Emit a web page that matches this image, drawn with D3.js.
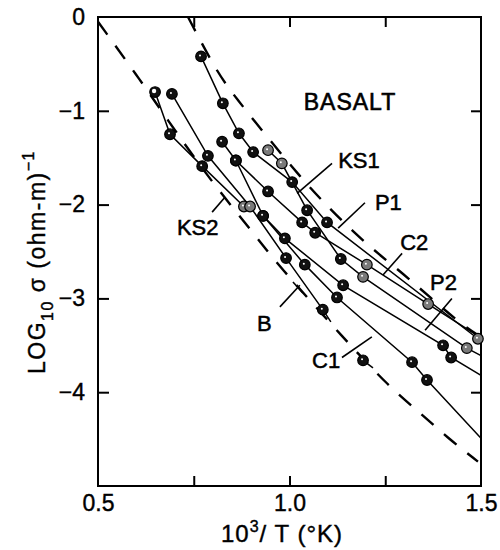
<!DOCTYPE html>
<html>
<head>
<meta charset="utf-8">
<script src="https://cdn.jsdelivr.net/npm/d3@7"></script>
<style>
  body { margin: 0; background: #fff; }
  text { font-family: "Liberation Sans", Arial, sans-serif; fill: #000; }
</style>
</head>
<body>
<div id="chart"></div>
<script>
// tick values / labels
const xTicks = [0.5, 0.75, 1.0, 1.25, 1.5];
const xTickLabels = ['0.5', '', '1.0', '', '1.5'];
const yTicks = [0, -1, -2, -3, -4];
const yTickLabels = ['0', '\u22121', '\u22122', '\u22123', '\u22124'];

// measured curves, [10^3/T, log10 sigma]
const ks2 = [[0.649, -0.80], [0.688, -1.25], [0.772, -1.59], [0.881, -2.02]];
const ks2Marks = ['open', 'fill', 'fill', 'hatch'];
const runA = [[0.693, -0.82], [0.787, -1.48], [0.897, -2.02], [0.991, -2.57], [1.087, -3.12], [1.108, -3.25]];
const runAMarks = ['fill', 'fill', 'hatch', 'fill', 'fill', 'none'];
const p1 = [[0.769, -0.42], [0.826, -0.92], [0.868, -1.24], [0.905, -1.44], [1.007, -1.76], [1.098, -2.19], [1.492, -3.43]];
const p1Marks = ['fill', 'fill', 'fill', 'fill', 'fill', 'fill', 'hatch'];
const ks1 = [[0.944, -1.42], [0.980, -1.56], [1.046, -2.06], [1.134, -2.58], [1.192, -2.77], [1.463, -3.53], [1.5, -3.61]];
const ks1Marks = ['hatch', 'hatch', 'fill', 'fill', 'hatch', 'hatch', 'none'];
const c2 = [[0.824, -1.33], [0.860, -1.53], [0.944, -1.86], [1.033, -2.19], [1.067, -2.30], [1.202, -2.64], [1.362, -3.06], [1.5, -3.42]];
const c2Marks = ['fill', 'fill', 'fill', 'fill', 'fill', 'hatch', 'hatch', 'none'];
const p2 = [[0.860, -1.53], [0.931, -2.12], [0.988, -2.36], [1.140, -2.86], [1.401, -3.50], [1.422, -3.63], [1.5, -3.82]];
const p2Marks = ['fill', 'fill', 'fill', 'fill', 'fill', 'fill', 'none'];
const c1 = [[0.931, -2.12], [1.040, -2.64], [1.124, -2.99], [1.320, -3.68], [1.359, -3.87], [1.5, -4.49]];
const c1Marks = ['fill', 'fill', 'fill', 'fill', 'fill', 'none'];
const runB = [[1.192, -3.66], [1.218, -3.74]];
const runBMarks = ['fill', 'none'];

// dashed reference curves
const upperDash = [[0.735, 0], [0.813, -0.61], [0.866, -0.89], [0.920, -1.17], [1.035, -1.74], [1.095, -2.00],
  [1.166, -2.29], [1.236, -2.54], [1.307, -2.77], [1.445, -3.27], [1.5, -3.41]];
const lowerDash = [[0.5, -0.05], [0.610, -0.67], [0.704, -1.23], [0.805, -1.80], [0.913, -2.34], [0.965, -2.62],
  [1.145, -3.44], [1.262, -3.95], [1.341, -4.22], [1.411, -4.48], [1.492, -4.74]];

const series = [
  { pts: ks2, marks: ks2Marks },
  { pts: runA, marks: runAMarks },
  { pts: p1, marks: p1Marks },
  { pts: ks1, marks: ks1Marks },
  { pts: c2, marks: c2Marks },
  { pts: p2, marks: p2Marks },
  { pts: c1, marks: c1Marks },
  { pts: runB, marks: runBMarks }
];

// curve labels: text, label anchor, leader from -> to
const labels = [
  { text: 'KS2', at: [0.706, -2.32], from: [0.798, -2.08], to: [0.832, -1.92] },
  { text: 'KS1', at: [1.127, -1.61], from: [1.020, -1.88], to: [1.111, -1.56] },
  { text: 'P1', at: [1.223, -2.06], from: [1.127, -2.25], to: [1.197, -1.98] },
  { text: 'C2', at: [1.289, -2.48], from: [1.244, -2.75], to: [1.294, -2.52] },
  { text: 'P2', at: [1.367, -2.91], from: [1.354, -3.34], to: [1.424, -3.00] },
  { text: 'B', at: [0.915, -3.35], from: [0.975, -3.09], to: [1.027, -2.86] },
  { text: 'C1', at: [1.059, -3.74], from: [1.137, -3.63], to: [1.215, -3.41] }
];

const W = 500, H = 550;
const x = d3.scaleLinear().domain([0.5, 1.5]).range([98, 481]);
const y = d3.scaleLinear().domain([0, -5]).range([17, 486]);

const svg = d3.select('#chart').append('svg')
  .attr('width', W)
  .attr('height', H);

// axes (ticks point inward)
const gBottom = svg.append('g')
  .attr('transform', `translate(0, ${y(-5)})`)
  .call(d3.axisBottom(x).tickValues(xTicks).tickSize(-10).tickPadding(9)
    .tickFormat((d, i) => xTickLabels[i]));
const gLeft = svg.append('g')
  .attr('transform', `translate(${x(0.5)}, 0)`)
  .call(d3.axisLeft(y).tickValues(yTicks).tickSize(-11).tickPadding(13)
    .tickFormat((d, i) => yTickLabels[i]));
const gTop = svg.append('g')
  .attr('transform', `translate(0, ${y(0)})`)
  .call(d3.axisTop(x).tickValues([0.75, 1.0, 1.25]).tickSize(-10).tickFormat(''));
const gRight = svg.append('g')
  .attr('transform', `translate(${x(1.5)}, 0)`)
  .call(d3.axisRight(y).tickValues([-1, -2, -3, -4]).tickSize(-10).tickFormat(''));

[gBottom, gLeft, gTop, gRight].forEach(g => {
  g.select('.domain').remove();
  g.selectAll('line').attr('stroke', '#000').attr('stroke-width', 2);
  g.selectAll('text')
    .style('font-family', '"Liberation Sans", Arial, sans-serif')
    .style('font-size', '23px')
    .attr('fill', '#000')
    .attr('stroke', '#000')
    .attr('stroke-width', 0.4);
});
// drop the ticks that sit on the frame
gBottom.selectAll('.tick line').filter(d => d === 0.5 || d === 1.5).remove();
gLeft.selectAll('.tick line').filter(d => d === 0).remove();

svg.append('rect')
  .attr('x', x(0.5)).attr('y', y(0))
  .attr('width', x(1.5) - x(0.5)).attr('height', y(-5) - y(0))
  .attr('fill', 'none').attr('stroke', '#000').attr('stroke-width', 2);

// dashed curves
const smooth = d3.line().x(d => x(d[0])).y(d => y(d[1])).curve(d3.curveBasis);
[upperDash, lowerDash].forEach(pts => {
  svg.append('path')
    .attr('d', smooth(pts))
    .attr('fill', 'none')
    .attr('stroke', '#000')
    .attr('stroke-width', 2.4)
    .attr('stroke-dasharray', '16,14');
});

// measured curves
const line = d3.line().x(d => x(d[0])).y(d => y(d[1]));
series.forEach(s => {
  svg.append('path')
    .attr('d', line(s.pts))
    .attr('fill', 'none')
    .attr('stroke', '#000')
    .attr('stroke-width', 1.5);
});
series.forEach(s => {
  s.pts.forEach((p, i) => {
    const m = s.marks[i];
    if (m === 'none') return;
    svg.append('circle')
      .attr('cx', x(p[0])).attr('cy', y(p[1]))
      .attr('r', 5.3)
      .attr('fill', m === 'hatch' ? '#7a7a7a' : '#111')
      .attr('stroke', '#000')
      .attr('stroke-width', 1.2);
    svg.append('circle')
      .attr('cx', x(p[0]) - 1).attr('cy', y(p[1]) - 1)
      .attr('r', m === 'open' ? 2.2 : 1)
      .attr('fill', '#fff');
  });
});

// labels and leaders
labels.forEach(l => {
  svg.append('line')
    .attr('x1', x(l.from[0])).attr('y1', y(l.from[1]))
    .attr('x2', x(l.to[0])).attr('y2', y(l.to[1]))
    .attr('stroke', '#000').attr('stroke-width', 1.6);
  svg.append('text')
    .attr('x', x(l.at[0])).attr('y', y(l.at[1]))
    .style('font-size', '22px')
    .attr('stroke', '#000').attr('stroke-width', 0.5)
    .text(l.text);
});
// small cross bar on the B leader
svg.append('line')
  .attr('x1', x(1.009)).attr('y1', y(-2.825))
  .attr('x2', x(1.035)).attr('y2', y(-2.942))
  .attr('stroke', '#000').attr('stroke-width', 1.6);

svg.append('text')
  .attr('x', x(1.158)).attr('y', y(-0.99))
  .attr('text-anchor', 'middle')
  .style('font-size', '23px')
  .style('letter-spacing', '1px')
  .attr('stroke', '#000').attr('stroke-width', 0.6)
  .text('BASALT');

// axis titles
svg.append('text')
  .attr('x', 282).attr('y', 542)
  .attr('text-anchor', 'middle')
  .style('font-size', '24px')
  .style('letter-spacing', '1px')
  .attr('stroke', '#000').attr('stroke-width', 0.4)
  .call(t => {
    t.append('tspan').text('10');
    t.append('tspan').attr('dy', -10).style('font-size', '16px').text('3');
    t.append('tspan').attr('dy', 10).text('/ T (\u00b0K)');
  });

svg.append('text')
  .attr('transform', 'translate(45, 262) rotate(-90)')
  .attr('text-anchor', 'middle')
  .style('font-size', '23px')
  .style('letter-spacing', '1.5px')
  .attr('stroke', '#000').attr('stroke-width', 0.4)
  .call(t => {
    t.append('tspan').text('LOG');
    t.append('tspan').attr('dy', 8).style('font-size', '16px').text('10');
    t.append('tspan').attr('dy', -8).text(' \u03c3 (ohm-m)');
    t.append('tspan').attr('dy', -11).style('font-size', '16px').text('\u22121');
  });
</script>
</body>
</html>
